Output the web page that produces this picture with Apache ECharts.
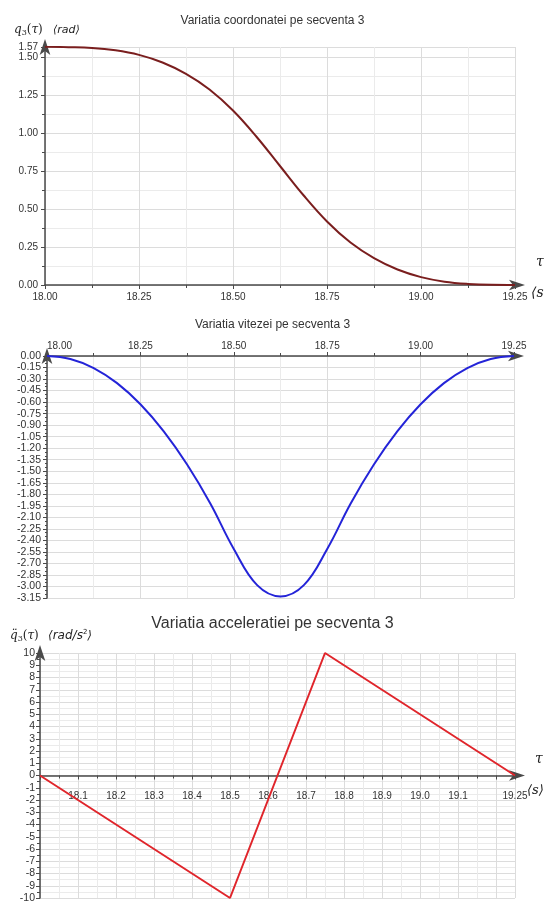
<!DOCTYPE html>
<html>
<head>
<meta charset="utf-8">
<title>Secventa 3</title>
<script src="https://cdn.jsdelivr.net/npm/echarts@6/dist/echarts.min.js"></script>
<style>
  html, body { margin: 0; padding: 0; background: #fff; }
  #chart { width: 545px; height: 904px; }
</style>
</head>
<body>
<div id="chart"></div>
<script>
// timpul pe secventa 3 (s)
const tau = [18.0, 18.0625, 18.125, 18.1875, 18.25, 18.3125, 18.375, 18.4375, 18.5, 18.5625,
  18.625, 18.6875, 18.75, 18.8125, 18.875, 18.9375, 19.0, 19.0625, 19.125, 19.1875, 19.25];
// coordonata q3 (rad)
const coordonata = [1.571, 1.569, 1.564, 1.548, 1.518, 1.468, 1.393, 1.290, 1.151, 0.978,
  0.785, 0.592, 0.419, 0.280, 0.177, 0.102, 0.052, 0.022, 0.007, 0.001, 0];
// viteza (rad/s)
const viteza = [0, -0.039, -0.157, -0.353, -0.628, -0.981, -1.413, -1.923, -2.512, -2.983,
  -3.130, -2.983, -2.512, -1.923, -1.413, -0.981, -0.628, -0.353, -0.157, -0.039, 0];
// acceleratia (rad/s^2) - varfurile
const tauAcc = [18.0, 18.5, 18.75, 19.25];
const acceleratie = [0, -10, 10, 0];

const titluri = ["Variatia coordonatei pe secventa 3", "Variatia vitezei pe secventa 3", "Variatia acceleratiei pe secventa 3"];

const axisColor = "#4a4a4a";
const gridColor = "#dcdcdc";
const minorColor = "#ebebeb";
const labelFont = { color: "#333", fontSize: 10, fontFamily: "Liberation Sans" };

function pairs(xs, ys) {
  return xs.map((x, i) => [x, ys[i]]);
}

function fmtX(v) {
  const s = v.toFixed(2);
  return s.charAt(s.length - 1) === "0" ? v.toFixed(1) : s;
}

const myChart = echarts.init(document.getElementById("chart"), null, { renderer: "canvas" });

const option = {
  animation: false,
  backgroundColor: "#fff",
  title: [
    { text: titluri[0], left: "center", top: 10, textStyle: { fontSize: 12, fontWeight: "normal", color: "#333", fontFamily: "Liberation Sans" } },
    { text: titluri[1], left: "center", top: 314, textStyle: { fontSize: 12, fontWeight: "normal", color: "#333", fontFamily: "Liberation Sans" } },
    { text: titluri[2], left: "center", top: 611, textStyle: { fontSize: 16, fontWeight: "normal", color: "#333", fontFamily: "Liberation Sans" } }
  ],
  grid: [
    { left: 45, right: 30, top: 47, height: 238, outerBoundsMode: "none" },
    { left: 47, right: 31, top: 356, height: 242, outerBoundsMode: "none" },
    { left: 40, right: 30, top: 653, height: 245, outerBoundsMode: "none" },
    // jumatatea de sus a graficului 3, doar pentru etichetele axei pe linia de zero
    { left: 40, right: 30, top: 653, height: 122.5, outerBoundsMode: "none" }
  ],
  xAxis: [
    {
      type: "value", gridIndex: 0, min: 18, max: 19.25, interval: 0.25,
      axisLine: { onZero: false, symbol: ["none", "arrow"], symbolSize: [8, 16], symbolOffset: [0, 10], lineStyle: { color: axisColor, width: 1.5 } },
      axisTick: { length: 4, lineStyle: { color: axisColor } },
      minorTick: { show: true, splitNumber: 2, length: 3, lineStyle: { color: axisColor } },
      splitLine: { show: true, lineStyle: { color: gridColor } },
      minorSplitLine: { show: true, lineStyle: { color: minorColor } },
      axisLabel: Object.assign({ margin: 7, showMaxLabel: true, formatter: v => v.toFixed(2) }, labelFont)
    },
    {
      type: "value", gridIndex: 1, min: 18, max: 19.25, interval: 0.25, position: "top",
      axisLine: { onZero: false, symbol: ["none", "arrow"], symbolSize: [8, 16], symbolOffset: [0, 10], lineStyle: { color: axisColor, width: 1.5 } },
      axisTick: { length: 4, lineStyle: { color: axisColor } },
      minorTick: { show: true, splitNumber: 2, length: 3, lineStyle: { color: axisColor } },
      splitLine: { show: true, lineStyle: { color: gridColor } },
      minorSplitLine: { show: true, lineStyle: { color: minorColor } },
      axisLabel: Object.assign({ margin: 5, showMaxLabel: true, alignMinLabel: "left", formatter: v => v.toFixed(2) }, labelFont)
    },
    {
      type: "value", gridIndex: 2, min: 18, max: 19.25, interval: 0.1,
      axisLine: { onZero: true, symbol: ["none", "arrow"], symbolSize: [8, 16], symbolOffset: [0, 10], lineStyle: { color: axisColor, width: 1.5 } },
      axisTick: { length: 4, lineStyle: { color: axisColor } },
      minorTick: { show: true, splitNumber: 2, length: 3, lineStyle: { color: axisColor } },
      splitLine: { show: true, lineStyle: { color: gridColor } },
      minorSplitLine: { show: true, lineStyle: { color: minorColor } },
      axisLabel: { show: false }
    },
    {
      type: "value", gridIndex: 3, min: 18, max: 19.25, interval: 0.1,
      axisLine: { show: false, onZero: false },
      axisTick: { show: false },
      splitLine: { show: false },
      axisLabel: Object.assign({ margin: 16, showMinLabel: false, showMaxLabel: true, hideOverlap: false, formatter: fmtX }, labelFont)
    }
  ],
  yAxis: [
    {
      type: "value", gridIndex: 0, min: 0, max: 1.57, interval: 0.25,
      axisLine: { show: true, onZero: false, symbol: ["none", "arrow"], symbolSize: [8, 16], symbolOffset: [0, 8], lineStyle: { color: axisColor, width: 1.5 } },
      axisTick: { show: true, length: 4, lineStyle: { color: axisColor } },
      minorTick: { show: true, splitNumber: 2, length: 3, lineStyle: { color: axisColor } },
      splitLine: { show: true, lineStyle: { color: gridColor } },
      minorSplitLine: { show: true, lineStyle: { color: minorColor } },
      axisLabel: Object.assign({ margin: 7, showMaxLabel: true, formatter: v => v.toFixed(2) }, labelFont)
    },
    {
      type: "value", gridIndex: 1, min: -3.15, max: 0, interval: 0.15,
      axisLine: { show: true, onZero: false, symbol: ["none", "arrow"], symbolSize: [8, 16], symbolOffset: [0, 8], lineStyle: { color: axisColor, width: 1.5 } },
      axisTick: { show: true, length: 4, lineStyle: { color: axisColor } },
      minorTick: { show: true, splitNumber: 3, length: 2, lineStyle: { color: axisColor } },
      splitLine: { show: true, lineStyle: { color: gridColor } },
      axisLabel: Object.assign({ margin: 6, showMaxLabel: true, showMinLabel: true, formatter: v => v.toFixed(2) }, labelFont, { fontSize: 10.5 })
    },
    {
      type: "value", gridIndex: 2, min: -10, max: 10, interval: 1,
      axisLine: { show: true, onZero: false, symbol: ["none", "arrow"], symbolSize: [8, 16], symbolOffset: [0, 8], lineStyle: { color: axisColor, width: 1.5 } },
      axisTick: { show: true, length: 4, lineStyle: { color: axisColor } },
      minorTick: { show: true, splitNumber: 2, length: 3, lineStyle: { color: axisColor } },
      splitLine: { show: true, lineStyle: { color: gridColor } },
      minorSplitLine: { show: true, lineStyle: { color: minorColor } },
      axisLabel: Object.assign({ margin: 5, showMaxLabel: true, showMinLabel: true }, labelFont, { fontSize: 10.5 })
    },
    {
      type: "value", gridIndex: 3, min: 0, max: 10, show: false
    }
  ],
  series: [
    {
      type: "line", xAxisIndex: 0, yAxisIndex: 0, data: pairs(tau, coordonata),
      smooth: 0.4, showSymbol: false, lineStyle: { color: "#7a1e1e", width: 2 }
    },
    {
      type: "line", xAxisIndex: 1, yAxisIndex: 1, data: pairs(tau, viteza),
      smooth: 0.4, showSymbol: false, lineStyle: { color: "#2424d8", width: 2 }
    },
    {
      type: "line", xAxisIndex: 2, yAxisIndex: 2, data: pairs(tauAcc, acceleratie),
      showSymbol: false, lineStyle: { color: "#e0252b", width: 2 }
    }
  ],
  graphic: [
    // numele axelor
    { type: "text", x: 14, y: 30, style: { text: "{i|q}{s|3}{n|(}{i|τ}{n|)}", textVerticalAlign: "middle", fill: "#222",
      rich: { i: { fontFamily: "DejaVu Serif", fontStyle: "italic", fontSize: 12 }, s: { fontFamily: "DejaVu Serif", fontSize: 8, padding: [6, 0, 0, 0] }, n: { fontFamily: "DejaVu Serif", fontSize: 12 } } } },
    { type: "text", x: 53, y: 30, style: { text: "\u27E8rad\u27E9", textVerticalAlign: "middle", fill: "#222", font: "italic 11px 'DejaVu Sans'" } },
    { type: "text", x: 10, y: 636, style: { text: "{i|q\u0308}{s|3}{n|(}{i|τ}{n|)}", textVerticalAlign: "middle", fill: "#222",
      rich: { i: { fontFamily: "DejaVu Serif", fontStyle: "italic", fontSize: 12 }, s: { fontFamily: "DejaVu Serif", fontSize: 8, padding: [6, 0, 0, 0] }, n: { fontFamily: "DejaVu Serif", fontSize: 12 } } } },
    { type: "text", x: 48, y: 636, style: { text: "{n|\u27E8rad/s}{p|2}{n|\u27E9}", textVerticalAlign: "middle", fill: "#222",
      rich: { n: { fontFamily: "DejaVu Sans", fontStyle: "italic", fontSize: 12 }, p: { fontFamily: "DejaVu Sans", fontSize: 7, padding: [0, 0, 8, 0] } } } },
    // unitatile pe axa timpului
    { type: "text", x: 536, y: 262, style: { text: "τ", textVerticalAlign: "middle", fill: "#222", font: "italic 14px 'DejaVu Serif'" } },
    { type: "text", x: 531, y: 293, style: { text: "\u27E8s", textVerticalAlign: "middle", fill: "#222", font: "italic 14px 'DejaVu Serif'" } },
    { type: "text", x: 535, y: 759, style: { text: "τ", textVerticalAlign: "middle", fill: "#222", font: "italic 14px 'DejaVu Serif'" } },
    { type: "text", x: 527, y: 791, style: { text: "\u27E8s\u27E9", textVerticalAlign: "middle", fill: "#222", font: "italic 13px 'DejaVu Serif'" } }
  ]
};

myChart.clear();
myChart.setOption(option);
</script>
</body>
</html>
